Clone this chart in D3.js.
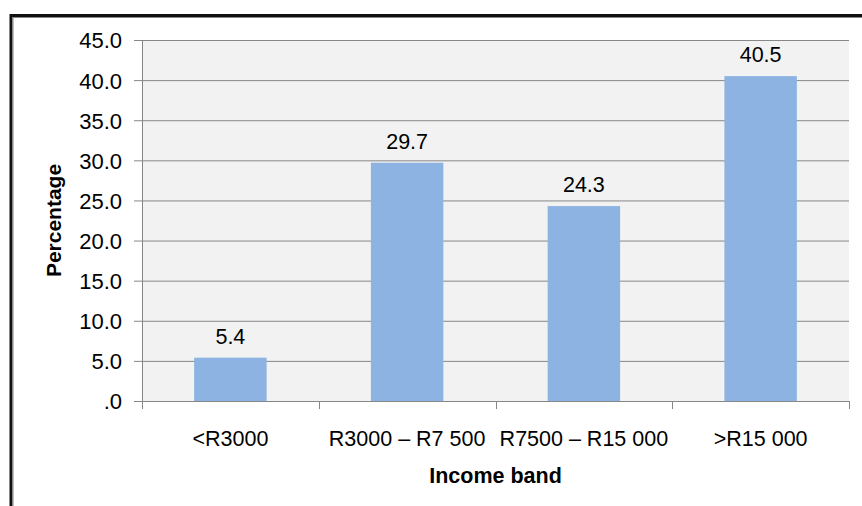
<!DOCTYPE html>
<html>
<head>
<meta charset="utf-8">
<script src="https://cdn.jsdelivr.net/npm/d3@7"></script>
<style>
  html, body { margin: 0; padding: 0; background: #fff; }
  svg { display: block; font-family: "Liberation Sans", Arial, sans-serif; }
</style>
</head>
<body>
<svg id="chart" width="862" height="506"></svg>
<script>
// Share of respondents by monthly household income band
const categories = ["<R3000", "R3000 – R7 500", "R7500 – R15 000", ">R15 000"];
const values = [5.4, 29.7, 24.3, 40.5];
const yTicks = [0, 5, 10, 15, 20, 25, 30, 35, 40, 45];
const xTitle = "Income band";
const yTitle = "Percentage";

const svg = d3.select("#chart");
const W = 862, H = 506;
const plot = { left: 142, right: 849, top: 40, bottom: 401 };
const FONT = "'Liberation Sans', Arial, sans-serif";

// outer frame (runs past the right and bottom edges)
svg.append("rect")
  .attr("x", 11).attr("y", 15.5)
  .attr("width", W + 20).attr("height", H + 20)
  .attr("fill", "#fff")
  .attr("stroke", "#111").attr("stroke-width", 3);
svg.append("line")
  .attr("x1", 13).attr("x2", 13).attr("y1", 17).attr("y2", H)
  .attr("stroke", "#888").attr("stroke-width", 1);
svg.append("line")
  .attr("x1", 13).attr("x2", W).attr("y1", 17.5).attr("y2", 17.5)
  .attr("stroke", "#888").attr("stroke-width", 1);

const x = d3.scaleBand().domain(categories)
  .range([plot.left, plot.right]).paddingInner(0.59).paddingOuter(0.295);
const xOuter = d3.scaleBand().domain(categories).range([plot.left, plot.right]);
const y = d3.scaleLinear().domain([0, 45]).range([plot.bottom, plot.top]);

// plot background
svg.append("rect")
  .attr("x", plot.left).attr("y", plot.top)
  .attr("width", plot.right - plot.left).attr("height", plot.bottom - plot.top)
  .attr("fill", "#f2f2f2");

// horizontal gridlines with tick stubs to the left
const yAxis = d3.axisLeft(y).tickValues(yTicks)
  .tickSize(-(plot.right - plot.left))
  .tickFormat(d => d === 0 ? ".0" : d3.format(".1f")(d))
  .tickPadding(20);
const gy = svg.append("g").attr("transform", `translate(${plot.left},0)`).call(yAxis);
gy.select(".domain").remove();
gy.selectAll(".tick line").attr("stroke", "#878787").attr("x1", -8);
gy.selectAll(".tick text")
  .attr("fill", "#000").attr("font-size", 22).attr("dy", "0.36em")
  .attr("font-family", FONT);

// bars
svg.append("g").selectAll("rect").data(values).join("rect")
  .attr("x", (d, i) => x(categories[i]))
  .attr("width", x.bandwidth())
  .attr("y", d => y(d))
  .attr("height", d => y(0) - y(d))
  .attr("fill", "#8db3e2");

// value labels
svg.append("g").selectAll("text").data(values).join("text")
  .attr("x", (d, i) => x(categories[i]) + x.bandwidth() / 2)
  .attr("y", d => y(d) - 14)
  .attr("text-anchor", "middle")
  .attr("font-size", 21.5)
  .attr("fill", "#000")
  .text(d => d.toFixed(1));

// vertical axis line
svg.append("line")
  .attr("x1", plot.left + 0.5).attr("x2", plot.left + 0.5)
  .attr("y1", plot.top).attr("y2", plot.bottom + 8)
  .attr("stroke", "#878787");

// category axis
const xAxis = d3.axisBottom(xOuter).tickSize(0).tickPadding(0);
const gx = svg.append("g").attr("transform", `translate(0,${plot.bottom})`).call(xAxis);
gx.select(".domain").attr("stroke", "#878787");
gx.selectAll(".tick text")
  .attr("fill", "#000").attr("font-size", 21.5).attr("y", 45).attr("dy", 0)
  .attr("font-family", FONT);
// boundary tick marks between categories
const bounds = categories.map(c => xOuter(c)).concat([plot.right]);
gx.selectAll(".bound").data(bounds).join("line")
  .attr("class", "bound")
  .attr("x1", d => Math.round(d) + 0.5).attr("x2", d => Math.round(d) + 0.5)
  .attr("y1", 0).attr("y2", 8)
  .attr("stroke", "#878787");

// axis titles
svg.append("text")
  .attr("x", (plot.left + plot.right) / 2).attr("y", 483)
  .attr("text-anchor", "middle")
  .attr("font-size", 21.5).attr("font-weight", "bold")
  .text(xTitle);
svg.append("text")
  .attr("transform", `translate(61,${(plot.top + plot.bottom) / 2}) rotate(-90)`)
  .attr("text-anchor", "middle")
  .attr("font-size", 21).attr("font-weight", "bold")
  .text(yTitle);
</script>
</body>
</html>
